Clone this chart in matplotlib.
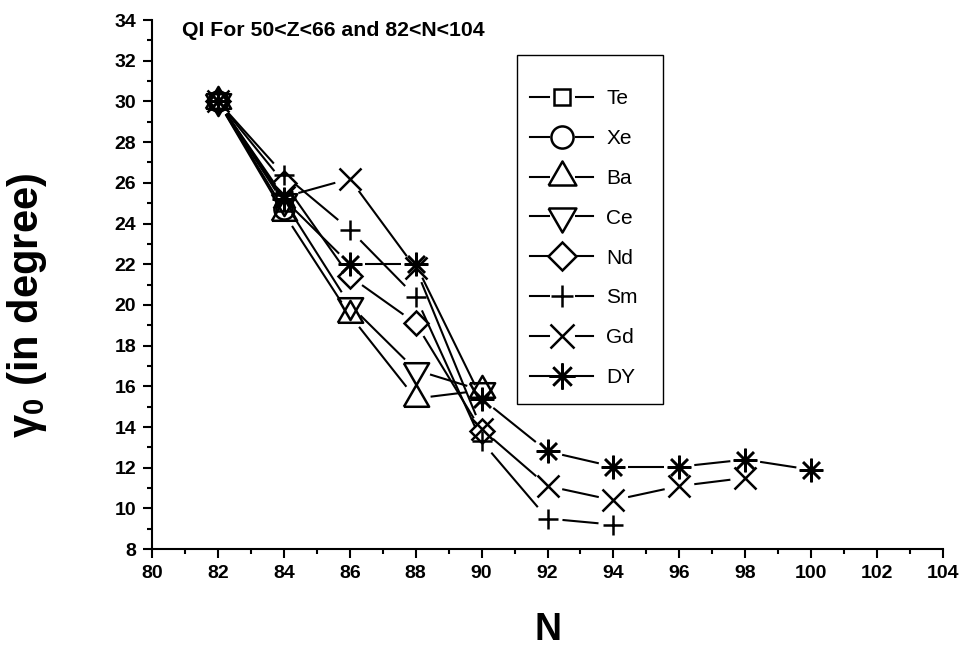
import numpy as np
import matplotlib
matplotlib.use('Agg')
import matplotlib.pyplot as plt
from matplotlib.lines import Line2D
from matplotlib.patches import Rectangle
from matplotlib.legend_handler import HandlerTuple

plt.rcParams['font.family'] = 'Liberation Sans'
plt.rcParams['mathtext.fontset'] = 'custom'
plt.rcParams['mathtext.bf'] = 'Liberation Sans:bold'

# gamma_0 values (degrees) vs neutron number N for each element
N_te = [82, 84]
te = [30.0, 25.0]
N_xe = [82, 84]
xe = [30.0, 24.7]
N_ba = [82, 84, 86, 88, 90]
ba = [30.0, 24.5, 19.5, 15.4, 15.8]
N_ce = [82, 84, 86, 88, 90]
ce = [30.0, 25.1, 20.0, 16.8, 15.8]
N_nd = [82, 84, 86, 88, 90]
nd = [30.0, 26.0, 21.4, 19.1, 13.8]
N_sm = [82, 84, 86, 88, 90, 92, 94]
sm = [30.0, 26.4, 23.7, 20.4, 13.3, 9.5, 9.2]
N_gd = [82, 84, 86, 88, 90, 92, 94, 96, 98]
gd = [30.0, 25.3, 26.2, 21.8, 13.9, 11.1, 10.4, 11.1, 11.5]
N_dy = [82, 84, 86, 88, 90, 92, 94, 96, 98, 100]
dy = [30.0, 25.2, 22.0, 22.0, 15.4, 12.8, 12.05, 12.05, 12.4, 11.9]

labels = ['Te', 'Xe', 'Ba', 'Ce', 'Nd', 'Sm', 'Gd', 'DY']
xs = [N_te, N_xe, N_ba, N_ce, N_nd, N_sm, N_gd, N_dy]
ys = [te, xe, ba, ce, nd, sm, gd, dy]

tri_up = [(-1, -0.577), (1, -0.577), (0, 1.155), (-1, -0.577)]
tri_dn = [(-1, 0.577), (1, 0.577), (0, -1.155), (-1, 0.577)]
styles = [
    dict(marker='s', ms=11),
    dict(marker='o', ms=14.5),
    dict(marker=tri_up, ms=21),
    dict(marker=tri_dn, ms=21),
    dict(marker='D', ms=12.5),
    dict(marker='+', ms=15),
    dict(marker='x', ms=16),
    dict(marker=(8, 2, 0), ms=17),
]

fig = plt.figure(figsize=(9.72, 6.46), dpi=100)
ax = fig.add_axes([0.1564, 0.150, 0.8138, 0.819])
ax.set_xlim(80, 104)
ax.set_ylim(8, 34)

GAP = 15  # pixels left blank between a line and its symbols


def gapped_line(x, y):
    pts = ax.transData.transform(np.column_stack([x, y]))
    inv = ax.transData.inverted()
    for p0, p1 in zip(pts[:-1], pts[1:]):
        d = p1 - p0
        L = np.hypot(*d)
        if L <= 2 * GAP:
            continue
        u = d / L
        seg = inv.transform(np.array([p0 + u * GAP, p1 - u * GAP]))
        ax.plot(seg[:, 0], seg[:, 1], color='black', lw=1.5,
                solid_capstyle='butt', zorder=2)


for x, y in zip(xs, ys):
    gapped_line(x, y)

for x, y, st in zip(xs, ys, styles):
    ax.plot(x, y, ls='none', marker=st['marker'], ms=st['ms'],
            mfc='none', mec='black', mew=1.8, zorder=3)

# legend box drawn separately so the entries can sit lower inside it
ax.add_patch(Rectangle((0.4614, 0.274), 0.1846, 0.660, transform=ax.transAxes,
                       facecolor='white', edgecolor='black', lw=1.0,
                       zorder=4))

handles = []
for st in styles:
    base = Line2D([], [], color='black', lw=1.5)
    halo = Line2D([], [], ls='none', marker='o', ms=17, mfc='white',
                  mec='white')
    sym = Line2D([], [], ls='none', marker=st['marker'], ms=st['ms'] * 1.1,
                 mfc='none', mec='black', mew=1.8)
    handles.append((base, halo, sym))

leg = ax.legend(handles, labels, handler_map={tuple: HandlerTuple(ndivide=1)},
                loc='upper left', bbox_to_anchor=(0.4652, 0.889),
                borderaxespad=0, fontsize=15, handlelength=3.0,
                handletextpad=0.65, labelspacing=1.0, borderpad=0.5,
                frameon=False)
leg.set_zorder(5)

ax.text(0.038, 0.981, 'QI For 50<Z<66 and 82<N<104', transform=ax.transAxes,
        fontsize=15.3, fontweight='bold', va='center', ha='left')

ax.set_xticks(np.arange(80, 105, 2))
ax.set_xticks(np.arange(80, 105, 1), minor=True)
ax.set_yticks(np.arange(8, 35, 2))
ax.set_yticks(np.arange(8, 35, 1), minor=True)
ax.tick_params(which='major', direction='out', length=6.5, width=1.5,
               labelsize=14, pad=5)
ax.tick_params(which='minor', direction='out', length=3.5, width=1.5)
for lab in ax.get_xticklabels() + ax.get_yticklabels():
    lab.set_fontweight('bold')

for side in ['top', 'right']:
    ax.spines[side].set_visible(False)
for side in ['left', 'bottom']:
    ax.spines[side].set_linewidth(1.5)

ax.set_xlabel('N', fontsize=27, fontweight='bold')
ax.set_ylabel(r'γ$_\mathbf{0}$ (in degree)', fontsize=30, fontweight='bold')
ax.xaxis.set_label_coords(0.5, -0.118)
ax.yaxis.set_label_coords(-0.13, 0.46)

fig.savefig('out.png', dpi=100)
